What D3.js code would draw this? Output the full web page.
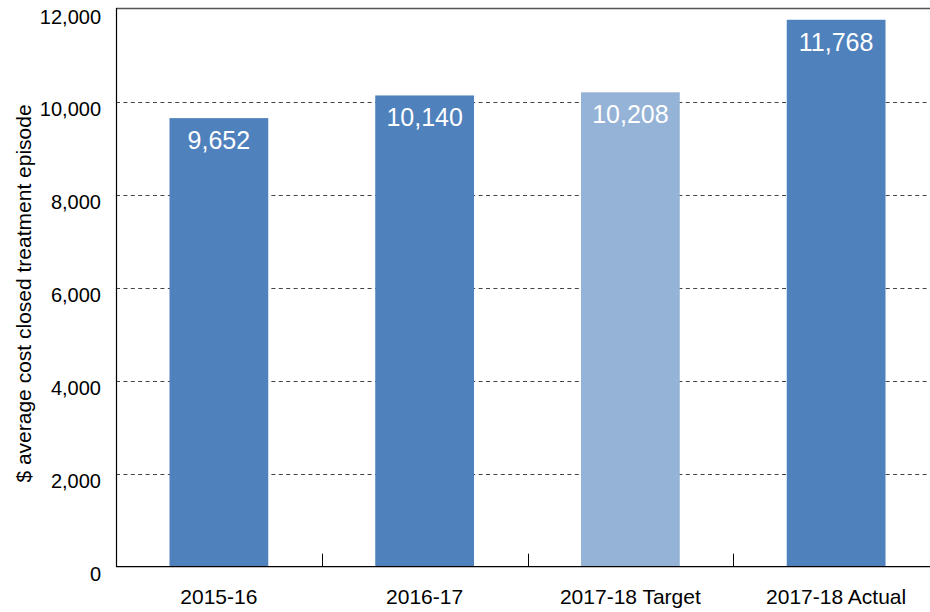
<!DOCTYPE html>
<html>
<head>
<meta charset="utf-8">
<script src="https://cdn.jsdelivr.net/npm/d3@7"></script>
<style>
  html, body { margin: 0; padding: 0; background: #fff; }
  svg { display: block; font-family: "Liberation Sans", Arial, sans-serif; }
</style>
</head>
<body>
<svg id="chart" width="930" height="612"></svg>
<script>
// Average cost per closed treatment episode, by year
const categories = ["2015-16", "2016-17", "2017-18 Target", "2017-18 Actual"];
const values = [9652, 10140, 10208, 11768];
const barColors = ["#4f81bd", "#4f81bd", "#95b3d7", "#4f81bd"];
const yTicks = [0, 2000, 4000, 6000, 8000, 10000, 12000];
const yTitle = "$ average cost closed treatment episode";

const svg = d3.select("#chart");
const plotLeft = 116, plotRight = 939, plotTop = 9, plotBottom = 566.7;

const x = d3.scaleBand().domain(categories).range([plotLeft, plotRight]).padding(0);
const y = d3.scaleLinear().domain([0, 12000]).range([plotBottom, plotTop]);
const fmt = d3.format(",");
const barFrac = 0.48;

// dashed gridlines
svg.append("g").selectAll("line")
  .data(yTicks.filter(t => t > 0 && t < 12000))
  .join("line")
  .attr("x1", plotLeft).attr("x2", 930)
  .attr("y1", d => Math.round(y(d)) + 0.5).attr("y2", d => Math.round(y(d)) + 0.5)
  .attr("stroke", "#444").attr("stroke-width", 1)
  .attr("stroke-dasharray", "4,3.4");

// bars
const bw = x.bandwidth() * barFrac;
svg.append("g").selectAll("rect")
  .data(values)
  .join("rect")
  .attr("x", (d, i) => x(categories[i]) + (x.bandwidth() - bw) / 2)
  .attr("y", d => y(d))
  .attr("width", bw)
  .attr("height", d => plotBottom - y(d))
  .attr("fill", (d, i) => barColors[i]);

// value labels inside bar tops
svg.append("g").selectAll("text")
  .data(values)
  .join("text")
  .attr("x", (d, i) => x(categories[i]) + x.bandwidth() / 2)
  .attr("y", d => y(d) + 31)
  .attr("text-anchor", "middle")
  .attr("fill", "#fff")
  .attr("font-size", 25)
  .text(d => fmt(d));

// frame: top line, left axis, baseline
svg.append("line").attr("x1", plotLeft).attr("x2", 930).attr("y1", plotTop - 0.5).attr("y2", plotTop - 0.5)
  .attr("stroke", "#555").attr("stroke-width", 1.5);
svg.append("line").attr("x1", plotLeft + 0.5).attr("x2", plotLeft + 0.5).attr("y1", plotTop - 1).attr("y2", plotBottom)
  .attr("stroke", "#000").attr("stroke-width", 1.2);
svg.append("line").attr("x1", plotLeft).attr("x2", 930).attr("y1", plotBottom).attr("y2", plotBottom)
  .attr("stroke", "#000").attr("stroke-width", 1.2);

// category separators (ticks pointing up from the baseline)
svg.append("g").selectAll("line")
  .data(categories.slice(1))
  .join("line")
  .attr("x1", d => Math.round(x(d)) + 0.5).attr("x2", d => Math.round(x(d)) + 0.5)
  .attr("y1", plotBottom).attr("y2", plotBottom - 13)
  .attr("stroke", "#000").attr("stroke-width", 1);

// category labels
svg.append("g").selectAll("text")
  .data(categories)
  .join("text")
  .attr("x", d => x(d) + x.bandwidth() / 2)
  .attr("y", 604)
  .attr("text-anchor", "middle")
  .attr("font-size", 21)
  .attr("fill", "#000")
  .text(d => d);

// y tick labels
svg.append("g").selectAll("text")
  .data(yTicks)
  .join("text")
  .attr("x", 101)
  .attr("y", d => y(d) + 14.5)
  .attr("text-anchor", "end")
  .attr("font-size", 20)
  .attr("fill", "#000")
  .text(d => fmt(d));

// y axis title
svg.append("text")
  .attr("transform", "translate(31,293.5) rotate(-90)")
  .attr("text-anchor", "middle")
  .attr("font-size", 21)
  .attr("fill", "#000")
  .text(yTitle);
</script>
</body>
</html>
